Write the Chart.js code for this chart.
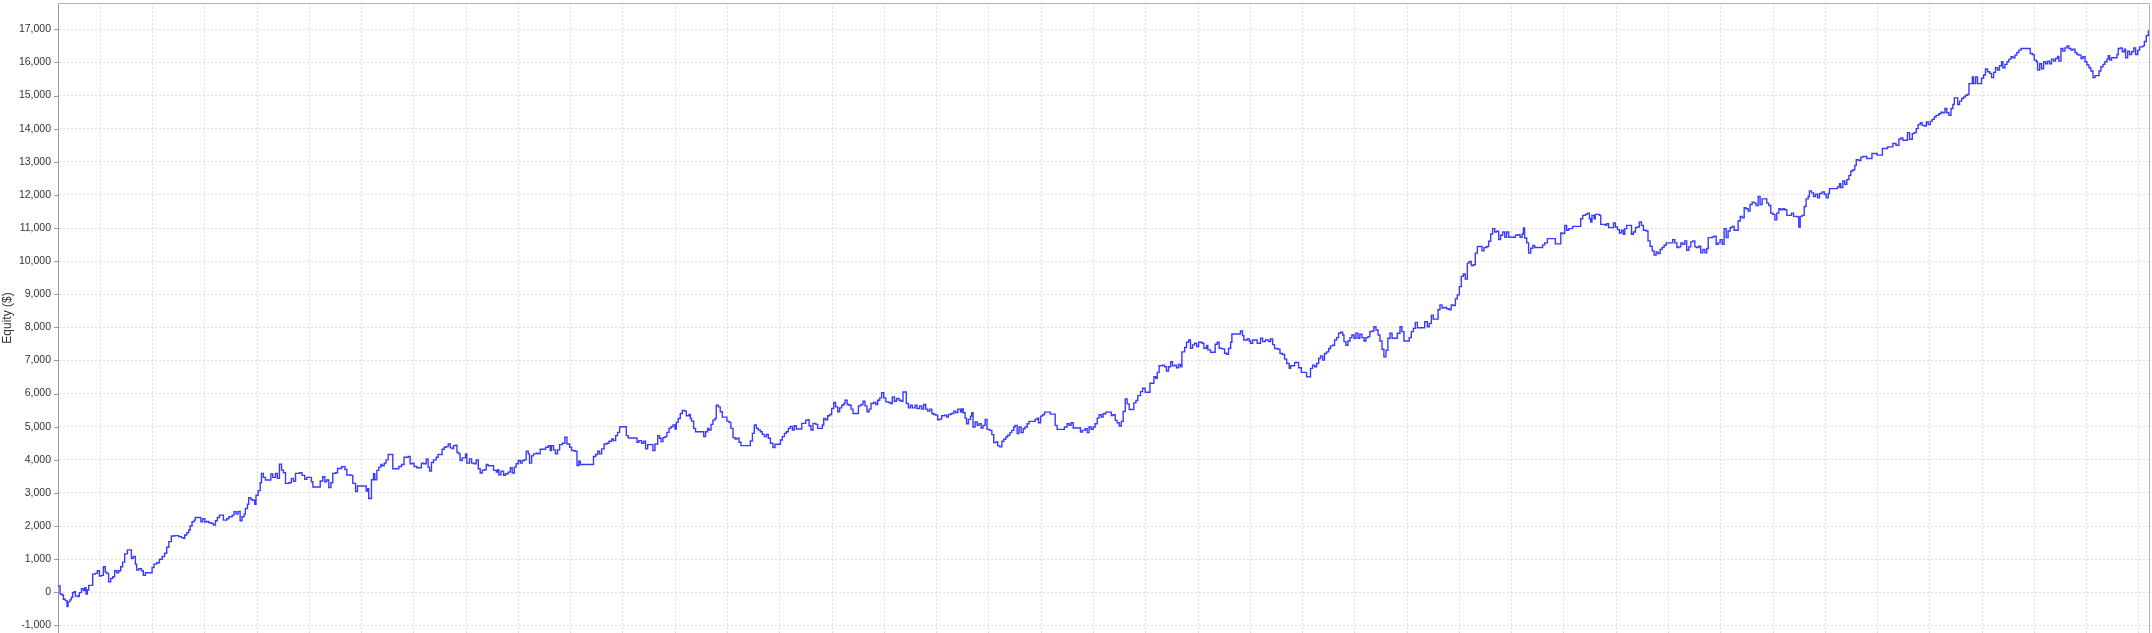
<!DOCTYPE html>
<html>
<head>
<meta charset="utf-8">
<title>Equity</title>
<script src="https://cdn.jsdelivr.net/npm/chart.js@4.4.1/dist/chart.umd.min.js"></script>
<style>
    html, body { margin: 0; padding: 0; background: #fff; overflow: hidden; }
    #wrap { width: 2152px; height: 633px; }
</style>
</head>
<body>
<div id="wrap"><canvas id="equity-chart" width="2152" height="633"></canvas></div>
<script>
// ==================== DATOS ====================
// Numero de operacion (eje x, sin etiquetas) y equity acumulada en $.
const trades = [
    0, 1.0, 1.9, 2.6, 3.5, 4.3, 4.8, 5.7, 6.4, 7.0,
    7.7, 8.3, 9.6, 10.2, 11.2, 12.1, 12.8, 13.4, 14.0, 14.7,
    15.6, 16.6, 17.9, 18.8, 19.8, 20.7, 21.7, 22.6, 23.3, 24.2,
    25.2, 26.2, 27.1, 28.1, 29.0, 30.0, 30.9, 31.9, 33.2, 34.4,
    35.1, 36.0, 37.0, 37.6, 38.6, 39.9, 40.8, 41.8, 44.0, 45.0,
    45.9, 47.2, 48.5, 49.8, 51.0, 52.0, 53.0, 54.2, 55.8, 57.7,
    59.0, 60.0, 60.6, 61.6, 62.5, 63.2, 64.1, 65.1, 65.7, 67.3,
    68.3, 69.2, 70.2, 71.1, 72.1, 73.4, 74.3, 75.3, 76.2, 77.2,
    78.5, 79.1, 80.7, 81.7, 83.3, 84.2, 85.2, 86.1, 87.1, 88.0,
    89.0, 89.6, 90.6, 91.2, 92.2, 93.1, 94.1, 94.7, 95.7, 96.7,
    97.3, 98.2, 99.2, 100.8, 101.8, 102.7, 104.0, 104.9, 105.9, 106.9,
    107.8, 108.8, 110.4, 111.6, 112.6, 113.6, 115.5, 116.7, 118.0, 119.0,
    120.3, 121.2, 121.9, 124.4, 125.4, 126.6, 127.6, 128.5, 129.5, 130.5,
    131.4, 132.7, 133.7, 135.6, 137.2, 138.1, 140.0, 141.0, 142.3, 143.2,
    145.5,
    146.7, 147.4, 148.0, 148.6, 149.3, 149.9, 150.9, 151.5, 152.5, 153.4,
    154.4, 155.0, 156.0, 156.9, 157.9, 159.2, 160.1, 162.0, 163.0, 164.3,
    165.5, 167.5, 168.4, 169.4, 170.3, 171.6, 172.9, 173.8, 174.8, 176.1,
    177.0, 177.7, 178.6, 179.6, 180.9, 181.8, 182.8, 183.7, 184.7, 185.6,
    186.6, 187.6, 188.5, 189.2, 190.1, 190.8, 191.7, 192.3, 193.3, 194.3,
    194.9, 195.5, 196.8, 197.8, 199.0, 200.0, 201.0, 201.9, 202.9, 203.8,
    204.8, 205.7, 207.7, 208.3, 209.6, 210.2, 210.8, 211.8, 213.1, 214.0,
    215.3, 216.3, 217.2, 218.2, 219.1, 220.1, 221.1, 222.0, 223.0, 223.9,
    224.9, 225.5, 226.5, 227.4, 228.7, 229.7, 230.6, 232.2, 233.2, 234.5,
    235.4, 236.0, 237.0, 237.9, 238.9, 239.9, 241.2, 242.4, 243.4, 244.7,
    245.6, 247.2, 248.2, 249.1, 249.8, 255.2, 256.1, 257.1, 258.1, 259.0,
    260.0, 261.2, 262.5, 263.5, 264.8, 265.7, 266.7, 267.6, 268.6, 270.8,
    271.8, 272.7, 276.0, 276.9, 277.8, 279.1, 280.1, 281.0, 282.0, 283.9,
    284.5, 285.5, 286.8,
    287.7, 288.4, 289.3, 290.3, 291.2, 292.2, 293.1, 294.1, 295.1, 295.7,
    296.6, 297.6, 298.6, 299.8, 300.5, 301.8, 302.4, 303.0, 304.0, 304.9,
    308.1, 308.8, 309.7, 310.7, 311.3, 312.3, 313.2, 314.2, 314.8, 315.8,
    316.7, 317.7, 319.0, 319.9, 320.9, 321.8, 322.8, 323.8, 324.7, 325.7,
    326.6, 330.1, 331.1, 332.1, 333.0, 334.0, 334.9, 335.9, 336.8, 337.8,
    338.8, 339.7, 340.7, 341.9, 342.9, 344.5, 345.5, 346.4, 347.4, 348.3,
    349.3, 350.2, 351.2, 352.1, 353.1, 355.0, 355.7, 357.0, 357.6, 358.5,
    359.2, 360.1, 361.1, 362.4, 363.3, 364.6, 365.5, 366.2, 367.1, 368.1,
    369.1, 370.0, 371.0, 371.9, 372.9, 373.8, 374.8, 375.8, 376.4, 377.4,
    378.3, 379.3, 380.2, 382.1, 382.8, 384.0, 385.0, 385.9, 386.9, 387.9,
    388.8, 390.1, 391.1, 392.0, 393.0, 393.9, 394.9, 395.9, 397.1, 398.1,
    399.0, 400.0, 401.0, 402.2, 403.2, 404.1, 405.1, 405.7, 406.7, 407.7,
    408.6, 409.9, 410.8, 412.1, 413.1, 414.0, 415.0, 415.9, 416.9, 417.9,
    418.8, 419.8, 420.7, 421.7, 422.6, 423.9, 424.9, 425.8, 427.1, 428.4,
    429.3, 430.3,
    431.6, 432.2, 432.9, 433.8, 434.5, 435.4, 436.4, 437.0, 437.6, 438.6,
    439.6, 440.5, 441.5, 442.4, 443.4, 444.3, 445.6, 446.6, 447.5, 448.5,
    449.4, 450.4, 451.4, 452.3, 453.3, 454.2, 455.2, 456.1, 457.1, 457.7,
    458.7, 459.6, 460.6, 461.6, 462.5, 463.5, 464.4, 466.7, 467.3, 468.3,
    468.9, 469.9, 470.8, 471.8, 473.7, 474.6, 475.9, 476.9, 477.8, 480.4,
    481.3, 482.6, 483.6, 484.5, 485.5, 488.0, 489.0, 489.9, 491.2, 492.2,
    493.1, 494.1, 495.1, 496.0, 497.0, 497.9, 498.9, 499.8, 501.1, 502.7,
    503.7, 504.6, 505.6, 506.5, 507.5, 508.5, 509.4, 510.4, 511.3, 512.3,
    513.5, 514.5, 515.5, 516.4, 517.7, 518.7, 519.9, 521.2, 522.2, 523.4,
    524.1, 525.0, 525.7, 526.6, 528.2, 529.2, 530.1, 531.1, 532.1, 533.0,
    534.0, 534.9, 535.9, 536.8, 537.5, 538.8, 539.7, 540.7, 541.6, 542.6,
    543.5, 544.5, 545.5, 547.1, 548.0, 549.3, 549.9, 551.2, 552.5, 553.4,
    554.4, 555.3, 556.6, 557.9, 558.9, 559.8, 560.8, 561.4, 564.6, 565.5,
    566.5, 567.1, 568.7, 569.7, 570.3, 571.3, 572.6, 573.5,
    575.1, 576.1, 577.4, 579.0, 579.9, 580.9, 581.8, 583.4, 584.4, 585.6,
    586.6, 587.6, 588.8, 589.5, 590.4, 591.4, 592.7, 593.3, 594.6, 596.2,
    597.1, 598.1, 599.0, 600.0, 601.0, 601.9, 602.9, 603.8, 604.8, 605.7,
    606.7, 607.7, 608.6, 609.6, 610.5, 611.5, 612.4, 613.4, 614.4, 615.0,
    615.9, 616.9, 617.9, 618.8, 619.8, 620.7, 621.7, 622.6, 623.6, 624.6,
    625.5, 626.5, 627.4, 628.4, 629.3, 630.3, 631.3, 632.2, 633.2, 634.1,
    635.1, 636.0, 637.0, 638.0, 639.5, 640.5, 641.8, 642.7, 643.7, 645.3,
    646.2, 647.2, 648.2, 649.1, 650.1, 652.6, 653.6, 654.9, 655.8, 656.8,
    657.7, 659.0, 660.0, 660.9, 661.9, 662.8, 664.1, 665.4, 666.3, 667.3,
    668.3, 669.2, 670.2, 671.1, 672.1, 673.0, 674.0, 674.9, 675.9, 676.9,
    677.8, 678.8, 680.1, 681.0, 682.0, 683.3, 684.2, 685.2, 686.1, 687.1,
    688.0, 689.0, 689.9, 690.9, 691.9, 692.8, 693.8, 696.0, 697.0, 698.2,
    699.2, 700.2, 700.8, 701.4, 702.4, 703.3, 704.3, 705.3, 706.2, 709.1,
    710.0, 711.0, 712.3, 715.5, 716.1, 717.4,
    718.7, 719.6, 720.6, 721.5, 722.5, 723.4, 724.4, 727.3, 728.2, 729.2,
    730.5, 731.4, 732.4, 733.0, 733.6, 734.6, 735.2, 737.2, 737.8, 740.0,
    740.7, 741.6, 742.9, 743.9, 744.8, 745.8, 746.7, 747.7, 748.6, 749.3,
    750.2, 751.8, 752.5, 753.4, 754.4, 755.3, 756.3, 757.3, 758.2, 759.5,
    760.4, 761.4, 762.4, 763.3, 764.3, 765.2, 766.2, 767.1, 768.1, 769.1,
    771.3, 772.2, 773.2, 774.2, 775.1, 776.1, 777.0, 778.0, 778.9, 779.9,
    780.9, 781.8, 782.8, 783.7, 784.7, 785.6, 786.6, 787.6, 788.5, 789.2,
    791.1, 792.0, 793.0, 793.9, 794.9, 795.9, 796.8, 797.8, 798.7, 799.7,
    800.6, 801.6, 802.5, 803.5, 804.5, 805.4, 806.4, 807.3, 808.3, 809.2,
    810.2, 811.2, 812.1, 813.1, 814.0, 815.0, 816.3, 817.2, 818.2, 819.1,
    820.1, 821.1, 822.0, 823.0, 823.9, 824.9, 825.8, 826.8, 828.1, 829.0,
    830.0, 830.9, 831.9, 832.5, 833.2, 834.1, 835.1, 836.0, 837.0, 837.6,
    838.6, 839.6, 840.5, 841.5, 842.4, 843.7, 844.7, 845.6, 846.6, 847.2,
    850.1, 851.0, 852.0, 852.6, 853.6, 854.5, 855.5, 856.5, 857.4, 858.4,
    859.3, 860.0, 861.2, 862.2, 863.2,
    865.0, 867.5, 870.0, 872.5, 875.0, 877.5, 879.0,
    880.4, 881.3, 882.3, 883.6, 884.5, 885.5, 886.1, 886.8, 887.7, 888.7,
    889.6, 890.6, 891.5, 892.5, 893.5, 894.4, 895.4, 896.3, 897.3, 898.2,
    899.5, 900.5, 901.4, 902.4, 903.3, 904.3, 905.3, 906.2, 906.9, 907.8,
    908.5, 909.4, 910.4, 911.3, 912.3, 913.2, 913.9, 914.8, 915.5, 916.1,
    917.1, 918.0, 919.0, 919.9, 920.9, 921.8, 922.8, 923.8, 924.7, 925.7,
    926.6, 927.6, 928.5, 929.5, 930.1, 931.1, 932.1, 933.0, 934.0, 934.9,
    935.9, 936.8, 937.8, 938.8, 942.3, 943.2, 944.2, 945.1, 946.1, 946.7,
    947.7, 948.6, 949.6, 950.6, 951.5, 952.5, 953.4, 954.4, 955.3, 956.3,
    956.9, 957.9, 958.8, 959.8, 960.8, 961.7, 962.7, 963.6, 964.6, 965.5,
    966.5, 967.5, 968.4, 969.4, 970.3, 971.3, 972.2, 973.2, 974.2, 975.1,
    976.1, 977.0, 978.0, 978.9, 979.9, 980.5, 981.2, 982.1, 984.0, 984.7,
    985.3, 986.3, 987.2, 988.2, 988.8, 989.8, 990.7, 991.7, 992.7, 993.6,
    994.6, 995.5, 997.1, 997.8, 998.7, 999.7, 1000,
];

const equity = [
    190, -50, -80, -210, -250, -430, -290, -230, -150, -10,
    20, -110, -130, -10, 110, 50, 140, -50, 70, 210,
    210, 550, 570, 650, 490, 510, 770, 610, 570, 320,
    420, 470, 650, 590, 650, 770, 910, 1160, 1280, 1280,
    1030, 1080, 850, 670, 710, 650, 510, 590, 590, 750,
    850, 890, 1000, 1080, 1180, 1360, 1530, 1700, 1710, 1680,
    1650, 1630, 1730, 1800, 1880, 2000, 2130, 2180, 2260, 2260,
    2130, 2220, 2120, 2140, 2100, 2080, 2030, 2160, 2260, 2330,
    2330, 2180, 2220, 2280, 2330, 2430, 2360, 2440, 2160, 2280,
    2360, 2530, 2660, 2860, 2800, 2780, 2660, 2930, 3070, 3310,
    3590, 3470, 3390, 3390, 3570, 3470, 3590, 3440, 3870, 3690,
    3610, 3290, 3310, 3440, 3350, 3590, 3610, 3530, 3410, 3470,
    3470, 3340, 3180, 3180, 3360, 3490, 3340, 3390, 3160, 3310,
    3590, 3610, 3740, 3790, 3710, 3540, 3530, 3290, 3040, 3210,
    3210,
    3210, 3060, 3130, 2830, 2830, 3400, 3580, 3400, 3680, 3780,
    3860, 3820, 3900, 4000, 4160, 4160, 3730, 3730, 3800, 3860,
    4080, 4100, 3880, 3900, 3800, 3760, 3760, 3900, 3880, 4030,
    3780, 3660, 3920, 4000, 4080, 4160, 4160, 4320, 4380, 4400,
    4480, 4360, 4340, 4430, 4440, 4220, 4180, 3980, 4060, 4060,
    4180, 3900, 4030, 3900, 3880, 4000, 3730, 3600, 3680, 3700,
    3860, 3820, 3820, 3680, 3630, 3700, 3550, 3660, 3530, 3580,
    3630, 3760, 3600, 3780, 3880, 3980, 3900, 3980, 4000, 4260,
    4180, 3900, 4120, 4180, 4200, 4180, 4320, 4320, 4380, 4430,
    4280, 4430, 4300, 4180, 4300, 4460, 4500, 4680, 4480, 4380,
    4280, 4260, 3830, 3960, 3860, 3860, 4100, 4160, 4260, 4180,
    4330, 4480, 4500, 4560, 4630, 4580, 4730, 4830, 5000, 5000,
    4730, 4660, 4660, 4530, 4580, 4500, 4560, 4330, 4460, 4460,
    4280, 4480, 4730,
    4650, 4550, 4670, 4700, 4830, 4950, 5000, 5050, 4930, 5130,
    5250, 5400, 5490, 5470, 5330, 5370, 5250, 5170, 4950, 4850,
    4850, 4700, 4850, 4950, 4900, 5070, 5200, 5250, 5650, 5600,
    5450, 5290, 5290, 5170, 5130, 4950, 4670, 4630, 4650, 4530,
    4430, 4430, 4570, 4800, 5050, 4950, 4900, 4850, 4770, 4700,
    4770, 4650, 4500, 4370, 4470, 4470, 4600, 4700, 4800, 4850,
    4950, 5010, 4900, 5030, 4930, 4930, 5100, 5100, 5200, 5210,
    5030, 4900, 5100, 5070, 4950, 4950, 5050, 5250, 5210, 5330,
    5370, 5550, 5730, 5600, 5450, 5570, 5650, 5700, 5800, 5670,
    5650, 5530, 5400, 5400, 5630, 5670, 5770, 5630, 5450, 5530,
    5700, 5730, 5670, 5800, 5870, 6030, 5870, 5750, 5730, 5700,
    5900, 5770, 5850, 5800, 5770, 6050, 6050, 5700, 5570, 5650,
    5570, 5650, 5550, 5630, 5530, 5670, 5530, 5470, 5530, 5400,
    5370, 5350, 5210, 5230, 5330, 5350, 5290, 5370, 5400, 5470,
    5430, 5530,
    5440, 5540, 5420, 5260, 5090, 5220, 5320, 5420, 4990, 5140,
    5040, 5090, 4960, 5040, 5220, 4920, 4890, 4760, 4520, 4540,
    4420, 4390, 4560, 4620, 4690, 4740, 4820, 4890, 4990, 5040,
    4790, 4990, 4820, 4940, 4990, 5090, 5160, 5160, 5220, 5260,
    5120, 5320, 5360, 5440, 5440, 5380, 5380, 5040, 4920, 4920,
    4990, 5090, 5040, 5120, 4960, 4960, 4840, 4890, 4940, 4820,
    4990, 4920, 4990, 5090, 5260, 5360, 5290, 5390, 5440, 5440,
    5340, 5360, 5190, 5120, 5020, 5160, 5460, 5840, 5690, 5520,
    5520, 5720, 5790, 5940, 6060, 6160, 6040, 6040, 6310, 6310,
    6510, 6460, 6640, 6840, 6860, 6810, 6680, 6810, 6960, 6840,
    6860, 6780, 6880, 6810, 7260, 7390, 7550, 7620, 7370, 7470,
    7520, 7420, 7550, 7520, 7370, 7450, 7320, 7250, 7250, 7490,
    7550, 7370, 7350, 7220, 7190, 7370, 7550, 7800, 7800, 7890,
    7750, 7620, 7650, 7590, 7520, 7620, 7620, 7520,
    7670, 7570, 7620, 7570, 7650, 7480, 7360, 7340, 7210, 7180,
    7040, 6910, 6760, 6840, 6840, 6940, 6940, 6780, 6640, 6640,
    6510, 6510, 6760, 6860, 6810, 6910, 7060, 7140, 7010, 7210,
    7260, 7360, 7440, 7460, 7620, 7690, 7820, 7850, 7770, 7570,
    7460, 7590, 7690, 7770, 7670, 7820, 7670, 7790, 7690, 7590,
    7690, 7720, 7870, 7890, 8020, 7920, 7770, 7590, 7340, 7110,
    7310, 7670, 7820, 7670, 7670, 7820, 8020, 7870, 7590, 7590,
    7690, 7870, 7970, 8150, 7990, 7990, 8170, 8020, 8120, 8370,
    8250, 8250, 8530, 8680, 8580, 8600, 8560, 8530, 8680, 8660,
    8860, 8980, 9230, 9540, 9610, 9460, 9940, 9990, 9870, 9890,
    10240, 10440, 10440, 10310, 10410, 10440, 10600, 10820, 10980, 10880,
    10900, 10650, 10780, 10880, 10720, 10880, 10720, 10720, 10780, 10800,
    10720, 10820, 11000, 10700, 10550, 10240, 10390, 10470, 10410, 10410,
    10490, 10550, 10680, 10680, 10520, 10520,
    10850, 10830, 11080, 10930, 10980, 10980, 11050, 11050, 11280, 11380,
    11410, 11450, 11280, 11180, 11380, 11280, 11410, 11380, 11110, 11080,
    11130, 11010, 11010, 11150, 11030, 10950, 10850, 10930, 10810, 10980,
    11080, 11080, 10810, 10880, 11010, 11030, 11180, 11080, 10930, 10910,
    10610, 10450, 10310, 10180, 10280, 10230, 10350, 10410, 10480, 10550,
    10550, 10650, 10550, 10410, 10430, 10550, 10510, 10610, 10330, 10430,
    10580, 10610, 10430, 10410, 10450, 10250, 10350, 10250, 10380, 10710,
    10730, 10750, 10510, 10550, 10650, 10510, 10980, 10710, 10910, 11010,
    11050, 10930, 10930, 11210, 11350, 11310, 11610, 11580, 11510, 11710,
    11780, 11750, 11680, 11950, 11710, 11880, 11880, 11750, 11680, 11450,
    11410, 11250, 11450, 11580, 11550, 11580, 11550, 11380, 11380, 11450,
    11350, 11350, 11330, 11030, 11350, 11380, 11650, 11880, 11950, 12120,
    12060, 11950, 12020, 11910, 12040, 12090, 12020, 11910, 12040, 12190,
    12190, 12240, 12340, 12220, 12420, 12320, 12460, 12590, 12720, 12760,
    12890, 13060, 13040, 13140, 13160,
    13100, 13250, 13200, 13400, 13450, 13550, 13500,
    13680, 13720, 13650, 13650, 13880, 13680, 13680, 13850, 13880, 14000,
    14120, 14180, 14100, 14080, 14200, 14120, 14220, 14280, 14350, 14400,
    14450, 14500, 14480, 14610, 14480, 14400, 14610, 14730, 14930, 14930,
    14730, 14830, 14910, 14960, 15010, 15030, 15360, 15360, 15560, 15360,
    15560, 15360, 15360, 15520, 15620, 15800, 15720, 15670, 15540, 15700,
    15840, 15770, 15900, 16020, 15840, 15940, 16020, 16100, 16170, 16140,
    16220, 16300, 16370, 16420, 16420, 16270, 16240, 16070, 16020, 15770,
    15960, 15810, 16020, 15960, 16040, 15960, 16100, 16040, 16120, 16180,
    16040, 16420, 16340, 16440, 16500, 16420, 16370, 16400, 16300, 16240,
    16220, 16120, 16170, 16020, 15920, 15840, 15740, 15540, 15600, 15600,
    15740, 15870, 15940, 16020, 16100, 16200, 16070, 16140, 16140, 16240,
    16420, 16440, 16320, 16400, 16140, 16340, 16240, 16320, 16440, 16240,
    16370, 16470, 16500, 16630, 16810, 16950, 16830,
];

// Marcas del eje Y (en $)
const yTicks = [-1000, 0, 1000, 2000, 3000, 4000, 5000, 6000, 7000, 8000, 9000,
    10000, 11000, 12000, 13000, 14000, 15000, 16000, 17000];

// Lineas verticales de la grilla (eje x sin etiquetas, cada 25 operaciones)
const xGrid = Array.from({ length: 40 }, (_, k) => 20.2 + 25 * k);

const Y_MIN = -1229;
const Y_MAX = 17794;

// ==================== ESTILO ====================
const AZUL = 'rgb(58, 58, 255)';
const GRIS_GRILLA = '#dedede';
const GRIS_EJE = '#9a9a9a';
const GRIS_MARCO = '#b4b4b4';
const TEXTO = '#333';

if (trades.length !== equity.length) {
    console.warn('trades/equity con distinto largo', trades.length, equity.length);
}
const n = Math.min(trades.length, equity.length);
const puntos = [];
for (let i = 0; i < n; i++) puntos.push({ x: trades[i], y: equity[i] });

// marco superior/derecho + marcas cortas del eje Y
const marcoPlugin = {
    id: 'marco',
    afterDraw(chart) {
        const { ctx, chartArea: a, scales } = chart;
        ctx.save();
        ctx.lineWidth = 1;
        ctx.strokeStyle = GRIS_MARCO;
        ctx.beginPath();
        ctx.moveTo(a.left, a.top + 0.5);
        ctx.lineTo(a.right + 0.5, a.top + 0.5);
        ctx.lineTo(a.right + 0.5, a.bottom);
        ctx.stroke();

        ctx.strokeStyle = GRIS_EJE;
        ctx.beginPath();
        scales.y.ticks.forEach(t => {
            const y = Math.round(scales.y.getPixelForValue(t.value)) + 0.5;
            ctx.moveTo(a.left - 4, y);
            ctx.lineTo(a.left, y);
        });
        ctx.stroke();
        ctx.restore();
    },
};

new Chart(document.getElementById('equity-chart'), {
    type: 'line',
    data: {
        datasets: [{
            data: puntos,
            borderColor: AZUL,
            borderWidth: 1.4,
            pointRadius: 0,
            stepped: true,
            fill: false,
        }],
    },
    options: {
        responsive: false,
        animation: false,
        devicePixelRatio: 1,
        parsing: false,
        layout: { padding: { top: 3, right: 3, bottom: 0, left: 0 } },
        plugins: { legend: { display: false }, tooltip: { enabled: false } },
        scales: {
            x: {
                type: 'linear',
                min: 0,
                max: 1000,
                afterBuildTicks: s => { s.ticks = xGrid.map(v => ({ value: v })); },
                afterFit: s => { s.height = 0; s.paddingLeft = 0; s.paddingRight = 0; },
                ticks: { display: false },
                grid: { color: GRIS_GRILLA, lineWidth: 1, drawTicks: false },
                border: { display: false, dash: [2, 2] },
            },
            y: {
                type: 'linear',
                min: Y_MIN,
                max: Y_MAX,
                afterBuildTicks: s => { s.ticks = yTicks.map(v => ({ value: v })); },
                afterFit: s => { s.width = 58; s.paddingTop = 0; s.paddingBottom = 0; },
                ticks: {
                    padding: 7,
                    color: TEXTO,
                    font: { family: "'Liberation Sans', Arial, sans-serif", size: 10.5 },
                    callback: v => v.toLocaleString('en-US'),
                },
                grid: { color: GRIS_GRILLA, lineWidth: 1, drawTicks: false },
                border: { display: true, color: GRIS_EJE, width: 1, dash: [2, 2] },
                title: {
                    display: true,
                    text: 'Equity ($)',
                    color: TEXTO,
                    font: { family: "'Liberation Sans', Arial, sans-serif", size: 12 },
                    padding: { top: 0, bottom: 0 },
                },
            },
        },
    },
    plugins: [marcoPlugin],
});
</script>
</body>
</html>
